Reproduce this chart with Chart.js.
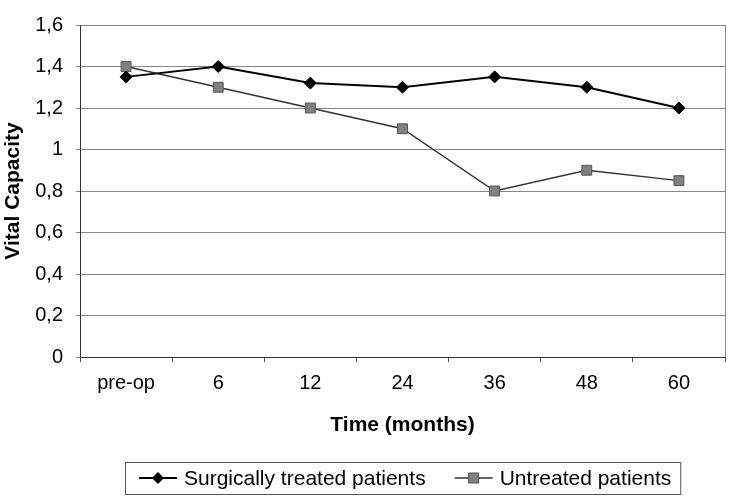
<!DOCTYPE html>
<html>
<head>
<meta charset="utf-8">
<script src="https://cdn.jsdelivr.net/npm/chart.js@4"></script>
<style>
  html, body { margin: 0; padding: 0; background: #fff; }
  #wrap { width: 733px; height: 502px; }
</style>
</head>
<body>
<div id="wrap"><canvas id="vcChart"></canvas></div>
<script>
const timeLabels = ["pre-op", "6", "12", "24", "36", "48", "60"];
const surgicalValues = [1.35, 1.4, 1.32, 1.3, 1.35, 1.3, 1.2];
const untreatedValues = [1.4, 1.3, 1.2, 1.1, 0.8, 0.9, 0.85];
const seriesNames = ["Surgically treated patients", "Untreated patients"];

const FONT = '"Liberation Sans", Arial, sans-serif';

function commaTick(value) {
  return String(Math.round(value * 10) / 10).replace(".", ",");
}

// right edge of the plot frame + boxed legend under the x axis title
const framePlugin = {
  id: "frame",
  afterDraw(chart) {
    const ctx = chart.ctx;
    const a = chart.chartArea;
    ctx.save();
    ctx.strokeStyle = "#888";
    ctx.lineWidth = 1;
    ctx.beginPath();
    ctx.moveTo(Math.round(a.right) + 0.5, a.top);
    ctx.lineTo(Math.round(a.right) + 0.5, a.bottom);
    ctx.stroke();

    // legend
    ctx.font = "21px " + FONT;
    const tw1 = ctx.measureText(seriesNames[0]).width;
    const tw2 = ctx.measureText(seriesNames[1]).width;
    const padL = 14, padR = 9, lineLen = 38, gap = 7, itemGap = 29;
    const total = padL + lineLen + gap + tw1 + itemGap + lineLen + gap + tw2 + padR;
    const cx = (a.left + a.right) / 2;
    const left = Math.round(cx - total / 2);
    const top = 462, h = 32;
    const cy = top + h / 2;

    ctx.strokeStyle = "#555";
    ctx.strokeRect(left + 0.5, top + 0.5, total, h);

    let x = left + padL;
    // item 1
    ctx.strokeStyle = "#000";
    ctx.lineWidth = 2;
    ctx.beginPath();
    ctx.moveTo(x, cy);
    ctx.lineTo(x + lineLen, cy);
    ctx.stroke();
    const m1 = x + lineLen / 2;
    ctx.fillStyle = "#000";
    ctx.beginPath();
    ctx.moveTo(m1 - 6, cy);
    ctx.lineTo(m1, cy - 6);
    ctx.lineTo(m1 + 6, cy);
    ctx.lineTo(m1, cy + 6);
    ctx.closePath();
    ctx.fill();
    x += lineLen + gap;
    ctx.fillStyle = "#000";
    ctx.textBaseline = "middle";
    ctx.textAlign = "left";
    ctx.fillText(seriesNames[0], x, cy + 1);
    x += tw1 + itemGap;

    // item 2
    ctx.strokeStyle = "#333";
    ctx.lineWidth = 1.5;
    ctx.beginPath();
    ctx.moveTo(x, cy);
    ctx.lineTo(x + lineLen, cy);
    ctx.stroke();
    const m2 = x + lineLen / 2;
    ctx.fillStyle = "#808080";
    ctx.fillRect(m2 - 5, cy - 5, 10, 10);
    ctx.strokeStyle = "#555";
    ctx.lineWidth = 1;
    ctx.strokeRect(m2 - 5, cy - 5, 10, 10);
    x += lineLen + gap;
    ctx.fillStyle = "#000";
    ctx.fillText(seriesNames[1], x, cy + 1);
    ctx.restore();
  },
};

document.addEventListener("DOMContentLoaded", () => {
  const ctx = document.getElementById("vcChart").getContext("2d");

  new Chart(ctx, {
    type: "line",
    data: {
      labels: timeLabels,
      datasets: [
        {
          label: seriesNames[0],
          data: surgicalValues,
          borderColor: "#000",
          backgroundColor: "#000",
          borderWidth: 2,
          pointStyle: "rectRot",
          pointRadius: 6,
          pointBorderWidth: 1,
          pointBackgroundColor: "#000",
          pointBorderColor: "#000",
          tension: 0,
          order: 1,
        },
        {
          label: seriesNames[1],
          data: untreatedValues,
          borderColor: "#333",
          backgroundColor: "#808080",
          borderWidth: 1.5,
          pointStyle: "rect",
          pointRadius: 7,
          pointBorderWidth: 1,
          pointBackgroundColor: "#808080",
          pointBorderColor: "#555",
          tension: 0,
          order: 2,
        },
      ],
    },
    options: {
      responsive: true,
      maintainAspectRatio: false,
      animation: false,
      layout: {
        padding: { left: 1, top: 12, right: 7, bottom: 60 },
      },
      scales: {
        x: {
          offset: true,
          grid: {
            offset: true,
            drawOnChartArea: false,
            drawTicks: true,
            tickLength: 5,
            color: "#555",
          },
          border: { color: "#333", width: 1 },
          ticks: {
            color: "#000",
            font: { family: FONT, size: 20 },
            padding: 9,
            maxRotation: 0,
          },
          title: {
            display: true,
            text: "Time (months)",
            color: "#000",
            font: { family: FONT, size: 21, weight: "bold" },
            padding: { top: 0, bottom: 4 },
          },
          afterFit(scale) {
            scale.height = 85;
          },
        },
        y: {
          min: 0,
          max: 1.6,
          ticks: {
            stepSize: 0.2,
            color: "#000",
            font: { family: FONT, size: 20 },
            padding: 13,
            callback: (v) => commaTick(v),
          },
          grid: {
            color: "#888",
            lineWidth: 1,
            tickLength: 4,
          },
          border: { color: "#333", width: 1 },
          title: {
            display: true,
            text: "Vital Capacity",
            color: "#000",
            font: { family: FONT, size: 21, weight: "bold" },
            padding: { top: 0, bottom: 0 },
          },
          afterFit(scale) {
            scale.width = 79;
          },
        },
      },
      plugins: {
        legend: { display: false },
        tooltip: { enabled: false },
      },
    },
    plugins: [framePlugin],
  });
});
</script>
</body>
</html>
